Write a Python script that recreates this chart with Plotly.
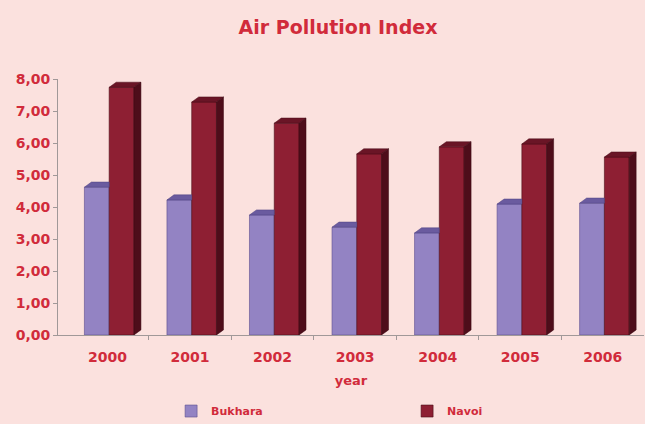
import plotly.graph_objects as go

years = ["2000", "2001", "2002", "2003", "2004", "2005", "2006"]
bukhara = [4.62, 4.22, 3.75, 3.37, 3.19, 4.09, 4.12]
navoi = [7.74, 7.28, 6.62, 5.66, 5.88, 5.97, 5.56]
y_ticks = [0, 1, 2, 3, 4, 5, 6, 7, 8]

RED = "#D12B3B"
BG = "#FBE1DE"
FONT = "DejaVu Sans"

xs = list(range(len(years)))
w = 0.30
offB, offN = -0.28, 0.02
dx, dy = 0.085, 0.16

fig = go.Figure()
fig.add_trace(go.Bar(x=xs, y=bukhara, name="Bukhara", width=w, offset=offB,
                     marker=dict(color="#9383C3", line=dict(color="#5D4F8E", width=0.6))))
fig.add_trace(go.Bar(x=xs, y=navoi, name="Navoi", width=w, offset=offN,
                     marker=dict(color="#8E1F33", line=dict(color="#4A0D18", width=0.6))))

shapes = []
for i, (b, n) in enumerate(zip(bukhara, navoi)):
    x0 = i + offB
    x1 = x0 + w
    shapes.append(dict(type="path", xref="x", yref="y", layer="above",
                       path=f"M{x0},{b} L{x0+dx},{b+dy} L{x1},{b+dy} L{x1},{b} Z",
                       fillcolor="#6A5B9F", line=dict(color="#4E4280", width=0.5)))
    n0 = i + offN
    n1 = n0 + w
    shapes.append(dict(type="path", xref="x", yref="y", layer="above",
                       path=f"M{n0},{n} L{n0+dx},{n+dy} L{n1+dx},{n+dy} L{n1},{n} Z",
                       fillcolor="#6A1526", line=dict(color="#4A0D18", width=0.5)))
    shapes.append(dict(type="path", xref="x", yref="y", layer="above",
                       path=f"M{n1},0 L{n1+dx},{dy} L{n1+dx},{n+dy} L{n1},{n} Z",
                       fillcolor="#4E0D1A", line=dict(color="#3A0812", width=0.5)))

fig.update_layout(
    width=645, height=424,
    paper_bgcolor=BG, plot_bgcolor=BG,
    margin=dict(l=58, r=1, t=79, b=89, autoexpand=False),
    separators=", ",
    shapes=shapes,
    showlegend=True,
    title=dict(text="Air Pollution Index", xref="container", yref="container",
               x=0.524, y=0.936, xanchor="center", yanchor="middle",
               font=dict(family=FONT, size=19, color=RED, weight="bold")),
    xaxis=dict(range=[-0.6, 6.5], tickvals=xs, ticktext=years, ticks="",
               ticklabelstandoff=9, automargin=False,
               showline=True, linecolor="#A09898", linewidth=1,
               showgrid=False, zeroline=False,
               tickfont=dict(family=FONT, size=14, color=RED, weight="bold"),
               minor=dict(tickvals=[i + 0.5 for i in xs[:-1]], ticks="outside",
                          ticklen=4, tickcolor="#A09898"),
               title=dict(text="year", standoff=12,
                          font=dict(family=FONT, size=13, color=RED, weight="bold"))),
    yaxis=dict(range=[0, 8], tickvals=y_ticks, tickformat=".2f", automargin=False,
               showline=True, linecolor="#A09898", linewidth=1,
               ticks="outside", ticklen=4, tickcolor="#A09898",
               showgrid=False, zeroline=False,
               tickfont=dict(family=FONT, size=14, color=RED, weight="bold")),
    legend=dict(orientation="h", x=0.193, y=-0.297, xanchor="left", yanchor="middle",
                entrywidth=191, entrywidthmode="pixels", bgcolor="rgba(0,0,0,0)",
                font=dict(family=FONT, size=11, color=RED, weight="bold")),
)

fig.write_html("out.html")
